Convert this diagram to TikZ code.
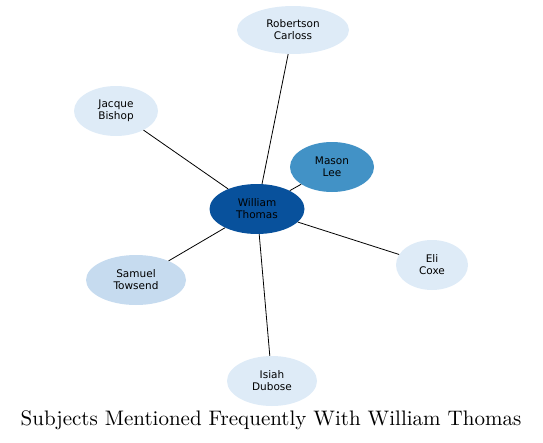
\documentclass[tikz,border=0pt]{standalone}
\usepackage{fontspec}
\newfontfamily\nodefont{DejaVu Sans}
\newfontfamily\titlefont{lmroman10-regular.otf}
\usepackage{xcolor}
\definecolor{bdark}{HTML}{08519C}
\definecolor{bmid}{HTML}{4292C6}
\definecolor{blight}{HTML}{C6DBEF}
\definecolor{bpale}{HTML}{DEEBF7}
\usepackage{tikz}
\usetikzlibrary{shapes.geometric}

\begin{document}
\begin{tikzpicture}[
  x=1pt,y=-1pt,
  pnode/.style={ellipse,draw=none,fill=bpale,inner sep=0pt,minimum height=50pt,align=center,font=\nodefont\fontsize{10.5}{12}\selectfont},
  link/.style={draw=black,line width=0.8pt}
]
  \useasboundingbox (0,0) rectangle (543,442);
  \node[pnode,fill=bdark,minimum width=95pt] (wt) at (257,209) {William\\Thomas};
  \node[pnode,fill=bmid,minimum width=84pt] (ml) at (332,167) {Mason\\Lee};
  \node[pnode,minimum width=112pt,minimum height=48pt] (rc) at (293,30) {Robertson\\Carloss};
  \node[pnode,minimum width=84pt] (jb) at (116,111) {Jacque\\Bishop};
  \node[pnode,fill=blight,minimum width=100pt] (st) at (136,280) {Samuel\\Towsend};
  \node[pnode,minimum width=72pt] (ec) at (432,265) {Eli\\Coxe};
  \node[pnode,minimum width=90pt] (id) at (272,381) {Isiah\\Dubose};
  \node[font=\titlefont\fontsize{21}{24}\selectfont] (title) at (271,420) {Subjects Mentioned Frequently With William Thomas};

  \draw[link] (wt) -- (ml);
  \draw[link] (wt) -- (rc);
  \draw[link] (wt) -- (jb);
  \draw[link] (wt) -- (st);
  \draw[link] (wt) -- (ec);
  \draw[link] (wt) -- (id);
\end{tikzpicture}
\end{document}
